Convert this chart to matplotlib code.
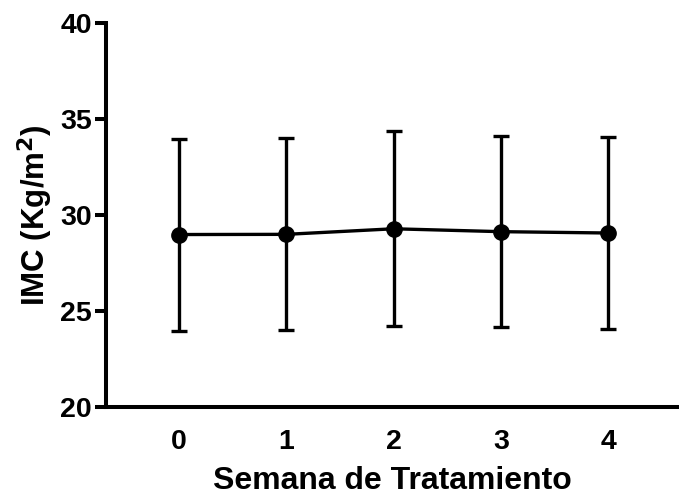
import matplotlib.pyplot as plt
import numpy as np

plt.rcParams['font.family'] = ['Liberation Sans', 'DejaVu Sans']
plt.rcParams['font.weight'] = 'bold'

semanas = [0, 1, 2, 3, 4]
imc_media = [28.97, 28.98, 29.27, 29.12, 29.05]
imc_de = [5.0, 5.0, 5.08, 4.99, 5.0]

fig = plt.figure(figsize=(6.79, 4.96), dpi=100)
ax = fig.add_axes([0.156, 0.180, 0.844, 0.774])

ax.errorbar(semanas, imc_media, yerr=imc_de, color='black', lw=2.4,
            marker='o', ms=11, capsize=5.5, capthick=2.4, elinewidth=2.4)

ax.set_xlim(-0.68, 4.66)
ax.set_ylim(20, 40)
ax.set_yticks([20, 25, 30, 35, 40])
ax.set_xticks(semanas)

for s in ['top', 'right']:
    ax.spines[s].set_visible(False)
for s in ['left', 'bottom']:
    ax.spines[s].set_linewidth(2.9)
    ax.spines[s].set_capstyle('projecting')

ax.tick_params(axis='y', length=8, width=2.9, labelsize=20.5, pad=2)
ax.tick_params(axis='x', length=0, labelsize=20.5, pad=16)

ax.set_xlabel('Semana de Tratamiento', fontsize=23, fontweight='bold', labelpad=8)
ax.set_ylabel('IMC (Kg/m$^\\mathbf{2}$)', fontsize=22.5, fontweight='bold', labelpad=4)

fig.savefig('out.png', dpi=100)
